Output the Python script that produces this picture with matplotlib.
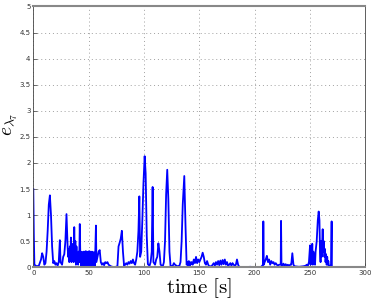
import matplotlib
matplotlib.use("Agg")
import matplotlib.pyplot as plt

time_s = [0, 0.5, 1, 3, 5, 7, 8, 9, 10, 11, 12, 13, 14, 15, 16, 17, 18, 19, 20, 21, 22, 23, 24, 24.6, 26, 27, 28, 29, 30,
          31, 31.5, 32, 32.5, 33, 33.5, 34, 34.5, 35, 35.5, 36, 36.5, 37, 37.5, 38, 38.5, 39, 39.5, 40, 40.5, 41, 41.5, 42, 42.5, 43,
          43.25, 43.5, 43.75, 44, 44.25, 44.5, 44.75, 45, 45.25, 45.5, 45.75, 46, 46.25, 46.5, 46.75, 47, 47.25, 47.5, 47.75, 48,
          48.25, 48.5, 48.75, 49, 49.25, 49.5, 49.75, 50, 50.25, 50.5, 50.75, 51, 51.25, 51.5, 51.75, 52, 52.25, 52.5, 52.75, 53,
          53.25, 53.5, 53.75, 54, 54.25, 54.5, 54.75, 55, 55.25, 55.5, 55.75, 56,
          56.6, 57, 58, 59, 60, 61, 62, 63, 64, 65, 66, 67, 68, 70, 73, 76, 77, 78, 79, 80, 81, 82, 83, 84, 85, 86, 87, 88, 89, 90, 91, 92, 93, 94, 95,
          95.8, 96.5, 97.5, 98.5, 99.5, 100.6, 101.5, 102.5, 103.5, 105, 106, 107, 107.8, 108.5, 110, 111, 112, 113, 114, 115, 117, 118, 119, 120,
          121, 122, 123, 124, 126, 127, 128, 130, 132, 133, 134, 135, 136.4, 137.5, 138.5, 139.5, 140, 140.5, 141, 141.5, 142, 143, 144, 145, 146,
          147, 148, 149, 150, 151, 152, 153, 154, 155, 156, 157, 158, 159, 161, 162, 163, 164, 165, 166, 167, 168, 169, 170, 171, 172, 173, 174,
          175, 176, 177, 178, 179, 180, 181, 182, 183, 184, 185, 186, 190, 196, 200, 206, 207.5, 207.8, 208.2, 209, 210, 211, 212, 213, 214, 215,
          216, 217, 218, 219, 220, 221, 222, 223.5, 223.8, 224.2, 225, 226, 227, 228, 229, 230, 231, 232, 233, 234, 235, 236, 240, 244, 246, 247,
          248, 249, 250, 250.5, 251, 251.5, 252, 252.5, 253, 253.5, 254, 254.5, 255, 256, 257, 257.8, 258.5, 259, 259.5, 260, 260.5, 261.4, 262,
          262.5, 263, 263.5, 264, 264.5, 265, 265.5, 266, 266.5, 267, 268, 269, 269.5, 269.7]

error_val = [1.5, 0.6, 0.05, 0.02, 0.03, 0.15, 0.27, 0.2, 0.05, 0.08, 0.3, 0.7, 1.2, 1.38, 1.0, 0.4, 0.08, 0.12, 0.05, 0.08, 0.03, 0.1, 0.52, 0.1, 0.05, 0.2, 0.25, 0.5, 1.02,
             0.4, 0.2, 0.35, 0.1, 0.4, 0.15, 0.57, 0.1, 0.45, 0.2, 0.3, 0.1, 0.77, 0.2, 0.5, 0.05, 0.4, 0.1, 0.25, 0.05, 0.3, 0.1, 0.83, 0.2, 0.3,
             0.0, 0.28, 0.02, 0.27, 0.0, 0.29, 0.03, 0.27, 0.0, 0.3, 0.02, 0.28, 0.0, 0.3, 0.03, 0.27, 0.0, 0.31, 0.02, 0.28,
             0.0, 0.29, 0.03, 0.27, 0.0, 0.3, 0.01, 0.29, 0.0, 0.31, 0.02, 0.28, 0.0, 0.3, 0.03, 0.27, 0.0, 0.29, 0.02, 0.3,
             0.0, 0.28, 0.03, 0.26, 0.0, 0.29, 0.02, 0.27, 0.0, 0.28, 0.02, 0.3,
             0.8, 0.1, 0.2, 0.3, 0.33, 0.1, 0.05, 0.08, 0.04, 0.1, 0.08, 0.1, 0.05, 0.02, 0.0, 0.02, 0.4, 0.47, 0.55, 0.7, 0.3, 0.03, 0.05, 0.08, 0.05, 0.1, 0.07, 0.12, 0.08, 0.15, 0.08, 0.05, 0.15, 0.3, 0.7,
             1.36, 0.2, 0.3, 0.9, 1.6, 2.13, 1.8, 0.6, 0.06, 0.03, 0.1, 0.3, 1.54, 0.1, 0.05, 0.15, 0.2, 0.46, 0.3, 0.05, 0.02, 0.1, 0.5, 1.4,
             1.87, 1.3, 0.3, 0.02, 0.03, 0.08, 0.05, 0.02, 0.03, 0.1, 0.5, 1.2, 1.75, 0.8, 0.05, 0.1, 0.02, 0.12, 0.03, 0.1, 0.05, 0.1, 0.05, 0.15, 0.08,
             0.2, 0.08, 0.15, 0.1, 0.15, 0.2, 0.28, 0.2, 0.08, 0.05, 0.12, 0.05, 0.02, 0.02, 0.05, 0.08, 0.03, 0.1, 0.05, 0.12, 0.04, 0.13, 0.05, 0.14, 0.06, 0.15, 0.05,
             0.1, 0.03, 0.05, 0.08, 0.03, 0.08, 0.05, 0.03, 0.05, 0.15, 0.05, 0.01, 0.0, 0.01, 0.0, 0.01, 0.05, 0.88, 0.05, 0.1, 0.15, 0.22, 0.1, 0.15, 0.05, 0.12,
             0.08, 0.1, 0.05, 0.08, 0.05, 0.03, 0.05, 0.05, 0.89, 0.05, 0.03, 0.07, 0.03, 0.06, 0.03, 0.05, 0.02, 0.05, 0.05, 0.27, 0.05, 0.02, 0.01, 0.02, 0.03, 0.05,
             0.03, 0.1, 0.42, 0.05, 0.4, 0.1, 0.45, 0.05, 0.3, 0.1, 0.25, 0.05, 0.3, 0.5, 0.9, 1.07, 0.9, 0.3, 0.1, 0.5, 0.2, 0.73, 0.3,
             0.5, 0.2, 0.35, 0.1, 0.25, 0.05, 0.2, 0.05, 0.12, 0.03, 0.02, 0.05, 0.88, 0.0]

x_ticks = [0, 50, 100, 150, 200, 250, 300]
y_ticks = [0, 0.5, 1, 1.5, 2, 2.5, 3, 3.5, 4, 4.5, 5]
y_ticklabels = ["0", "0.5", "1", "1.5", "2", "2.5", "3", "3.5", "4", "4.5", "5"]

plt.rcParams['mathtext.fontset'] = 'cm'

fig = plt.figure(figsize=(3.74, 3.04), dpi=100)
ax = fig.add_axes([0.089, 0.1207, 0.888, 0.858])
ax.plot(time_s, error_val, color='#0000ff', lw=1.3)
ax.set_xlim(0, 300)
ax.set_ylim(0, 5)
ax.set_xticks(x_ticks)
ax.set_yticks(y_ticks)
ax.set_yticklabels(y_ticklabels)
ax.tick_params(direction='in', labelsize=5, length=3, width=0.5, pad=2, colors='#333333')
ax.grid(True, linestyle=(0, (1, 3)), color='#a0a0a0', linewidth=0.7)
for s in ['top', 'bottom']:
    ax.spines[s].set_color('#888888')
    ax.spines[s].set_linewidth(1.5)
for s in ['left', 'right']:
    ax.spines[s].set_color('#444444')
    ax.spines[s].set_linewidth(0.6)
ax.set_xlabel(r'$\mathrm{time\ [s]}$', fontsize=15, labelpad=0)
ax.set_ylabel(r'$e_{\lambda_7}$', fontsize=14, va='center')
ax.yaxis.set_label_coords(-0.07, 0.55)
fig.savefig('out.png', dpi=100)
